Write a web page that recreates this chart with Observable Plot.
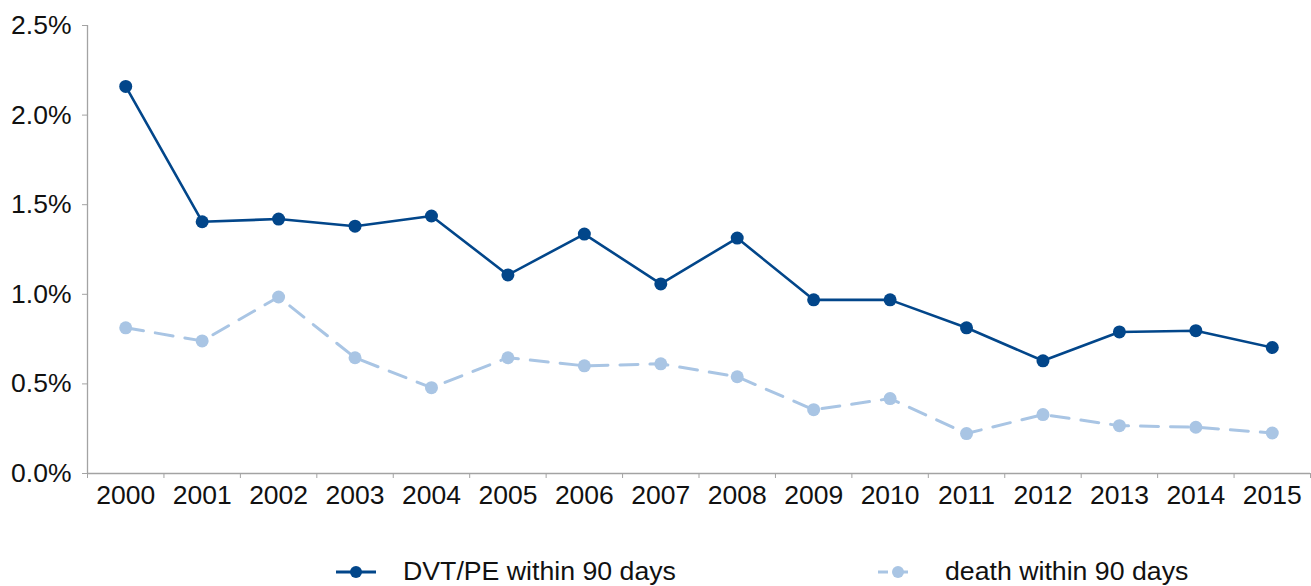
<!DOCTYPE html>
<html>
<head>
<meta charset="utf-8">
<script src="https://cdn.jsdelivr.net/npm/d3@7"></script>
<script src="https://cdn.jsdelivr.net/npm/@observablehq/plot@0.6"></script>
<style>
  html, body { margin: 0; padding: 0; background: #fff; }
  body { width: 1311px; height: 586px; overflow: hidden; font-family: "Liberation Sans", Helvetica, Arial, sans-serif; }
  #legend { position: relative; height: 66px; font-size: 26.7px; color: #111; }
  .item { position: absolute; top: 36px; display: flex; align-items: center; white-space: nowrap; }
  .item svg { margin-right: 27px; }
</style>
</head>
<body>
<div id="chart"></div>
<div id="legend"></div>
<script>
const years = [2000, 2001, 2002, 2003, 2004, 2005, 2006, 2007, 2008, 2009, 2010, 2011, 2012, 2013, 2014, 2015];
const dvtpe = [2.16, 1.405, 1.42, 1.38, 1.437, 1.108, 1.336, 1.058, 1.314, 0.969, 0.969, 0.813, 0.629, 0.79, 0.797, 0.703];
const death = [0.813, 0.74, 0.985, 0.646, 0.479, 0.646, 0.601, 0.612, 0.54, 0.356, 0.418, 0.223, 0.329, 0.267, 0.258, 0.226];
const yTicks = [0, 0.5, 1.0, 1.5, 2.0, 2.5];
const seriesNames = ["DVT/PE within 90 days", "death within 90 days"];
const colors = ["#02468a", "#a9c5e4"];

const rowsA = years.map((y, i) => ({year: y, value: dvtpe[i]}));
const rowsB = years.map((y, i) => ({year: y, value: death[i]}));
const boundaries = years.map(y => y - 0.5).concat([years[years.length - 1] + 0.5]);
const axisColor = "#a3a3a3";

const chart = Plot.plot({
  width: 1311,
  height: 520,
  marginTop: 25,
  marginLeft: 87,
  marginRight: 1,
  marginBottom: 47,
  style: {fontFamily: "'Liberation Sans', Helvetica, Arial, sans-serif", fontSize: "26.5px", color: "#111", background: "#fff"},
  x: {type: "linear", domain: [years[0] - 0.5, years[years.length - 1] + 0.5]},
  y: {domain: [0, 2.5]},
  marks: [
    Plot.axisY({ticks: yTicks, tickFormat: d => d.toFixed(1) + "%", tickSize: 5, tickPadding: 11, stroke: axisColor, label: null, fill: "#111"}),
    Plot.axisX({ticks: years, tickFormat: d => String(d), tickSize: 0, tickPadding: 12, label: null, fill: "#111"}),
    Plot.axisX({ticks: boundaries, tickFormat: () => "", tickSize: 5, stroke: axisColor, label: null}),
    Plot.ruleY([0], {stroke: axisColor, strokeWidth: 1.3}),
    Plot.ruleX([boundaries[0]], {stroke: axisColor, strokeWidth: 1.3}),
    Plot.lineY(rowsB, {x: "year", y: "value", stroke: colors[1], strokeWidth: 3, strokeDasharray: "18,12"}),
    Plot.dot(rowsB, {x: "year", y: "value", fill: colors[1], r: 6.5}),
    Plot.lineY(rowsA, {x: "year", y: "value", stroke: colors[0], strokeWidth: 2.6}),
    Plot.dot(rowsA, {x: "year", y: "value", fill: colors[0], r: 6.5})
  ]
});
document.getElementById("chart").appendChild(chart);

const legend = document.getElementById("legend");
const lefts = [336, 878];
seriesNames.forEach((name, i) => {
  const item = document.createElement("div");
  item.className = "item";
  item.style.left = lefts[i] + "px";
  const dash = i === 1 ? ' stroke-dasharray="10,10"' : '';
  item.innerHTML = `<svg width="40" height="14"><line x1="0" x2="40" y1="7" y2="7" stroke="${colors[i]}" stroke-width="3"${dash}></line><circle cx="20" cy="7" r="6" fill="${colors[i]}"></circle></svg><span>${name}</span>`;
  legend.appendChild(item);
});
</script>
</body>
</html>
